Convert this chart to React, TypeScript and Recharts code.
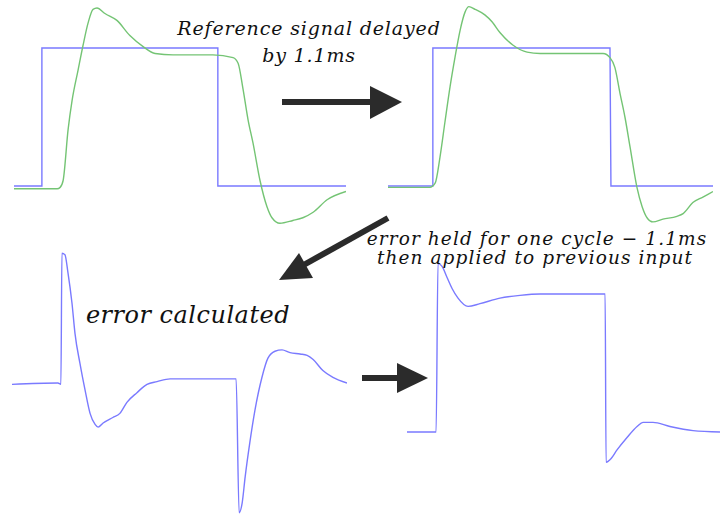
import { Line, LineChart, XAxis, YAxis } from 'recharts';

// time runs 0..10 across each panel, amplitude 0 = low level, 1 = high level

// top-left: input square wave and the measured response
const inputA = [
  { t: 0, v: 0 }, { t: 0.84, v: 0 }, { t: 0.84, v: 1 }, { t: 6.14, v: 1 }, { t: 6.14, v: 0 }, { t: 10, v: 0 },
];
const responseA = [
  { t: 0, v: -0.02 }, { t: 1.3, v: -0.02 }, { t: 1.39, v: -0.01 }, { t: 1.48, v: 0.04 }, { t: 1.63, v: 0.41 },
  { t: 1.75, v: 0.62 }, { t: 1.93, v: 0.84 }, { t: 2.08, v: 1.02 }, { t: 2.23, v: 1.18 }, { t: 2.38, v: 1.28 },
  { t: 2.5, v: 1.29 }, { t: 2.74, v: 1.25 }, { t: 3.1, v: 1.2 }, { t: 3.49, v: 1.09 }, { t: 3.89, v: 1.01 },
  { t: 4.25, v: 0.96 }, { t: 4.79, v: 0.95 }, { t: 5.99, v: 0.95 }, { t: 6.6, v: 0.93 }, { t: 6.75, v: 0.89 },
  { t: 6.9, v: 0.7 }, { t: 7.05, v: 0.48 }, { t: 7.2, v: 0.31 }, { t: 7.41, v: 0.04 }, { t: 7.62, v: -0.15 },
  { t: 7.77, v: -0.23 }, { t: 8.01, v: -0.27 }, { t: 8.4, v: -0.25 }, { t: 8.7, v: -0.23 }, { t: 9.01, v: -0.19 },
  { t: 9.43, v: -0.1 }, { t: 10, v: -0.04 },
];

// top-right: reference delayed by 1.1ms against the response
const inputB = [
  { t: 0, v: 0 }, { t: 1.38, v: 0 }, { t: 1.38, v: 1 }, { t: 6.83, v: 1 }, { t: 6.86, v: 0 }, { t: 10, v: 0 },
];
const responseB = [
  { t: 0, v: -0.01 }, { t: 1.29, v: -0.01 }, { t: 1.45, v: 0.02 }, { t: 1.6, v: 0.21 }, { t: 1.75, v: 0.46 },
  { t: 1.91, v: 0.72 }, { t: 2.06, v: 0.93 }, { t: 2.22, v: 1.13 }, { t: 2.37, v: 1.26 }, { t: 2.49, v: 1.3 },
  { t: 2.68, v: 1.28 }, { t: 2.98, v: 1.24 }, { t: 3.2, v: 1.19 }, { t: 3.45, v: 1.11 }, { t: 3.85, v: 1.02 },
  { t: 4.28, v: 0.97 }, { t: 4.68, v: 0.96 }, { t: 5.6, v: 0.96 }, { t: 6.62, v: 0.96 }, { t: 6.83, v: 0.93 },
  { t: 6.98, v: 0.86 }, { t: 7.14, v: 0.67 }, { t: 7.29, v: 0.5 }, { t: 7.45, v: 0.28 }, { t: 7.66, v: -0.01 },
  { t: 7.82, v: -0.15 }, { t: 7.97, v: -0.23 }, { t: 8.15, v: -0.26 }, { t: 8.46, v: -0.24 }, { t: 8.89, v: -0.22 },
  { t: 9.08, v: -0.2 }, { t: 9.38, v: -0.12 }, { t: 9.69, v: -0.08 }, { t: 10, v: -0.04 },
];

// bottom-left: error = reference - response
const errorSig = [
  { t: 0, v: -0.01 }, { t: 1.37, v: 0 }, { t: 1.46, v: -0.01 }, { t: 1.49, v: 0.94 }, { t: 1.58, v: 0.93 },
  { t: 1.67, v: 0.8 }, { t: 1.79, v: 0.58 }, { t: 1.88, v: 0.36 }, { t: 2.03, v: 0.14 }, { t: 2.18, v: -0.05 },
  { t: 2.33, v: -0.22 }, { t: 2.48, v: -0.3 }, { t: 2.57, v: -0.32 }, { t: 2.72, v: -0.29 }, { t: 3.01, v: -0.25 },
  { t: 3.22, v: -0.22 }, { t: 3.43, v: -0.14 }, { t: 3.73, v: -0.07 }, { t: 4.03, v: -0.01 }, { t: 4.33, v: 0.01 },
  { t: 4.72, v: 0.03 }, { t: 6.69, v: 0.03 }, { t: 6.78, v: -0.94 }, { t: 6.87, v: -0.87 }, { t: 6.96, v: -0.68 },
  { t: 7.1, v: -0.43 }, { t: 7.25, v: -0.2 }, { t: 7.46, v: 0.04 }, { t: 7.64, v: 0.18 }, { t: 7.85, v: 0.23 },
  { t: 8.06, v: 0.24 }, { t: 8.3, v: 0.22 }, { t: 8.6, v: 0.21 }, { t: 8.81, v: 0.2 }, { t: 8.99, v: 0.17 },
  { t: 9.28, v: 0.09 }, { t: 9.58, v: 0.04 }, { t: 10, v: 0 },
];

// bottom-right: held error applied to the previous input
const newInput = [
  { t: 0, v: 0 }, { t: 0.93, v: 0 }, { t: 0.99, v: 1.22 }, { t: 1.12, v: 1.2 }, { t: 1.28, v: 1.12 },
  { t: 1.44, v: 1.04 }, { t: 1.63, v: 0.97 }, { t: 1.95, v: 0.91 }, { t: 2.33, v: 0.93 }, { t: 2.97, v: 0.97 },
  { t: 3.61, v: 0.99 }, { t: 4.25, v: 1 }, { t: 6.33, v: 1 }, { t: 6.36, v: -0.22 }, { t: 6.49, v: -0.2 },
  { t: 6.71, v: -0.13 }, { t: 7.03, v: -0.04 }, { t: 7.35, v: 0.04 }, { t: 7.54, v: 0.07 }, { t: 7.86, v: 0.07 },
  { t: 8.4, v: 0.04 }, { t: 9.14, v: 0.01 }, { t: 10, v: 0 },
];

const BLUE = '#7a7aff';
const GREEN = '#74c474';
const INK = '#2b2b2b';
const serif = '"DejaVu Serif", serif';

type Series = { data: { t: number; v: number }[]; color: string; curve: 'linear' | 'monotone' };

function Panel(props: { left: number; top: number; width: number; height: number; yDomain: [number, number]; series: Series[] }) {
  const { left, top, width, height, yDomain, series } = props;
  return (
    <div style={{ position: 'absolute', left, top }}>
      <LineChart width={width} height={height} margin={{ top: 0, right: 0, bottom: 0, left: 0 }}>
        <XAxis type="number" dataKey="t" domain={[0, 10]} hide />
        <YAxis type="number" domain={yDomain} hide />
        {series.map((s, i) => (
          <Line
            key={i}
            data={s.data}
            dataKey="v"
            type={s.curve}
            stroke={s.color}
            strokeWidth={1.4}
            dot={false}
            isAnimationActive={false}
          />
        ))}
      </LineChart>
    </div>
  );
}

export default function App() {
  return (
    <div style={{ position: 'absolute', left: 0, top: 0, width: 720, height: 516, background: '#fff', overflow: 'hidden' }}>
      <Panel left={14} top={-21} width={332} height={276} yDomain={[-0.5, 1.5]}
        series={[{ data: inputA, color: BLUE, curve: 'linear' }, { data: responseA, color: GREEN, curve: 'monotone' }]} />
      <Panel left={388} top={-21} width={325} height={276} yDomain={[-0.5, 1.5]}
        series={[{ data: inputB, color: BLUE, curve: 'linear' }, { data: responseB, color: GREEN, curve: 'monotone' }]} />
      <Panel left={12} top={245} width={335} height={276} yDomain={[-1, 1]}
        series={[{ data: errorSig, color: BLUE, curve: 'monotone' }]} />
      <Panel left={407} top={225} width={313} height={276} yDomain={[-0.5, 1.5]}
        series={[{ data: newInput, color: BLUE, curve: 'monotone' }]} />

      <svg width={720} height={516} style={{ position: 'absolute', left: 0, top: 0 }}>
        {/* arrows between stages */}
        <line x1={282} y1={102} x2={372} y2={102} stroke={INK} strokeWidth={6} />
        <polygon points="370,86 402,102 370,119" fill={INK} />
        <line x1={388} y1={218} x2={300} y2={267} stroke={INK} strokeWidth={6} />
        <polygon points="279,280 299,253 313,278" fill={INK} />
        <line x1={362} y1={378} x2={399} y2={378} stroke={INK} strokeWidth={6} />
        <polygon points="397,363 428,378 397,393" fill={INK} />

        <g fontFamily={serif} fontStyle="italic" fill="#111" textAnchor="middle">
          <text x={309} y={35} fontSize={19} letterSpacing={0.85}>Reference signal delayed</text>
          <text x={309} y={62} fontSize={19} letterSpacing={0.85}>by 1.1ms</text>
          <text x={188} y={323} fontSize={24} letterSpacing={0.5}>error calculated</text>
          <text x={537} y={245} fontSize={18.5} letterSpacing={1.1}>error held for one cycle − 1.1ms</text>
          <text x={535} y={264} fontSize={18.5} letterSpacing={1.1}>then applied to previous input</text>
        </g>
      </svg>
    </div>
  );
}
